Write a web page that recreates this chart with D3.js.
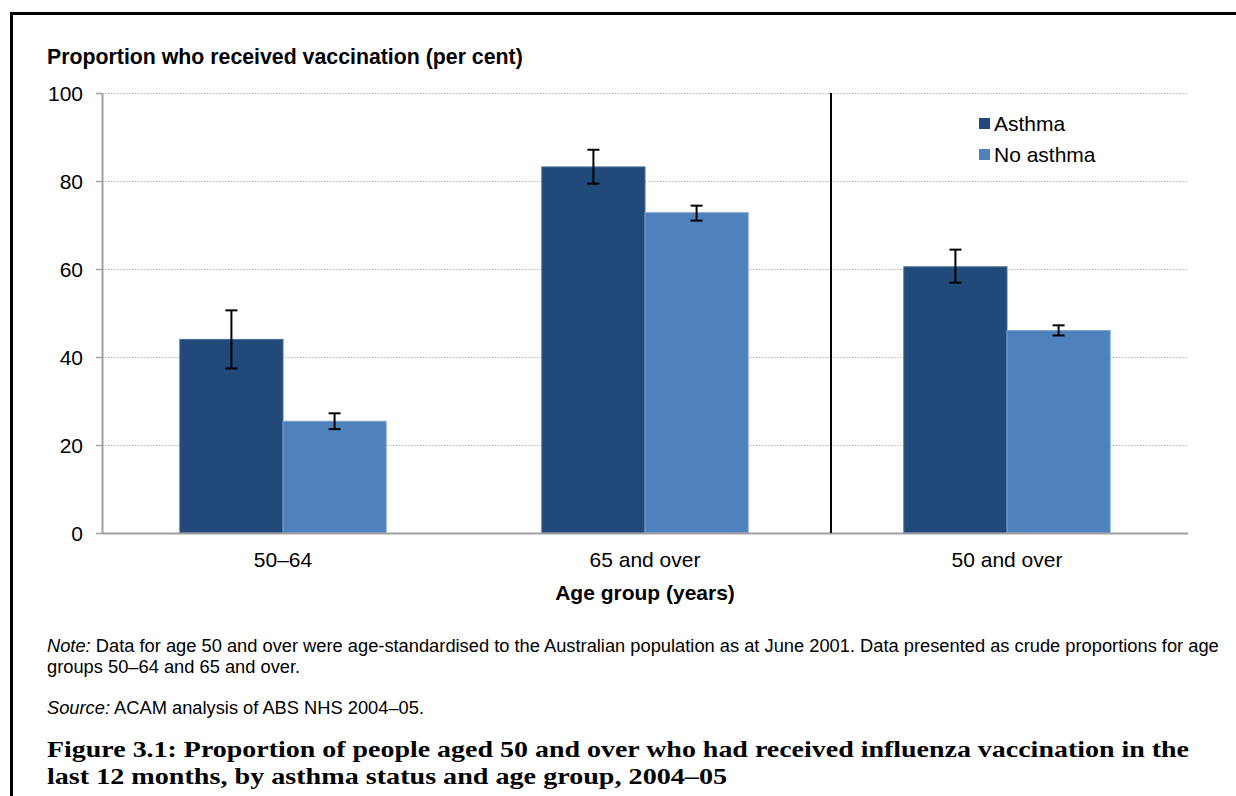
<!DOCTYPE html>
<html>
<head>
<meta charset="utf-8">
<script src="https://cdn.jsdelivr.net/npm/d3@7"></script>
<style>
  body { margin: 0; background: #fff; }
  svg text { font-family: Arial, "Liberation Sans", sans-serif; }
</style>
</head>
<body>
<div id="chart"></div>
<script>
// data
const categories = ['50–64', '65 and over', '50 and over'];
const seriesNames = ['Asthma', 'No asthma'];
const asthma     = [44.0, 83.2, 60.5];
const noAsthma   = [25.4, 72.8, 46.0];
const asthmaLow  = [37.4, 79.4, 56.9];
const asthmaHigh = [50.6, 87.1, 64.4];
const noAsthmaLow  = [23.6, 71.0, 44.9];
const noAsthmaHigh = [27.2, 74.4, 47.2];
const yTicks = [0, 20, 40, 60, 80, 100];

const width = 1236, height = 796;
const margin = {top: 93, left: 102, right: 1188, bottom: 533};
const colors = ['#214a7b', '#4f81bd'];

const svg = d3.select('#chart')
    .append('svg')
      .attr('width', width)
      .attr('height', height);

// outer frame (left and top only visible)
svg.append('path')
    .attr('d', `M11.5,${height} V13.5 H${width}`)
    .attr('fill', 'none')
    .attr('stroke', '#000')
    .attr('stroke-width', 3);

const x = d3.scaleBand()
    .domain(categories)
    .range([margin.left, margin.right])
    .paddingInner(0)
    .paddingOuter(0);

const y = d3.scaleLinear()
    .domain([0, 100])
    .range([margin.bottom, margin.top]);

const barW = x.bandwidth() * 0.285;
const xs = d3.scaleBand()
    .domain(seriesNames)
    .range([x.bandwidth() / 2 - barW, x.bandwidth() / 2 + barW]);

// gridlines
svg.append('g')
    .selectAll('line')
    .data(yTicks.filter(d => d > 0))
    .enter()
    .append('line')
      .attr('x1', margin.left)
      .attr('x2', margin.right)
      .attr('y1', d => y(d) + 0.5)
      .attr('y2', d => y(d) + 0.5)
      .attr('stroke', '#b5b5b5')
      .attr('stroke-width', 1)
      .attr('stroke-dasharray', '1.5,1.5');

// y axis
const yAxis = svg.append('g')
    .attr('transform', `translate(${margin.left},0)`)
    .call(d3.axisLeft(y).tickValues(yTicks).tickSize(6).tickPadding(13));
yAxis.select('.domain').attr('stroke', '#a0a0a0').attr('stroke-width', 2)
    .attr('d', `M0.5,${margin.top}V${margin.bottom}`);
yAxis.selectAll('.tick line').attr('stroke', '#a0a0a0').attr('stroke-width', 1.5);
yAxis.selectAll('.tick text')
    .style('font-size', '21px')
    .attr('dy', '0.35em')
    .attr('fill', '#000');

// bars
const rows = categories.map((c, i) => [
    {cat: c, s: seriesNames[0], v: asthma[i], lo: asthmaLow[i], hi: asthmaHigh[i]},
    {cat: c, s: seriesNames[1], v: noAsthma[i], lo: noAsthmaLow[i], hi: noAsthmaHigh[i]}
]);

const groups = svg.selectAll('.grp')
    .data(rows)
    .enter()
    .append('g')
      .attr('class', 'grp')
      .attr('transform', d => `translate(${x(d[0].cat)},0)`);

groups.selectAll('rect')
    .data(d => d)
    .enter()
    .append('rect')
      .attr('x', d => xs(d.s))
      .attr('y', d => y(d.v))
      .attr('width', xs.bandwidth())
      .attr('height', d => y(0) - y(d.v))
      .attr('fill', (d, i) => colors[i])
      .attr('stroke', (d, i) => i === 0 ? '#4a6c97' : '#7fa3d0')
      .attr('stroke-width', 1);

// error bars
const eb = groups.selectAll('.err')
    .data(d => d)
    .enter()
    .append('g')
      .attr('class', 'err')
      .attr('stroke', '#000')
      .attr('stroke-width', 2);
eb.append('line')
    .attr('x1', d => xs(d.s) + xs.bandwidth() / 2)
    .attr('x2', d => xs(d.s) + xs.bandwidth() / 2)
    .attr('y1', d => y(d.hi))
    .attr('y2', d => y(d.lo));
eb.selectAll('.cap')
    .data(d => [d.hi, d.lo].map(v => ({s: d.s, v: v})))
    .enter()
    .append('line')
      .attr('x1', d => xs(d.s) + xs.bandwidth() / 2 - 6)
      .attr('x2', d => xs(d.s) + xs.bandwidth() / 2 + 6)
      .attr('y1', d => y(d.v))
      .attr('y2', d => y(d.v));

// x axis baseline
svg.append('line')
    .attr('x1', margin.left)
    .attr('x2', margin.right)
    .attr('y1', y(0) + 0.5)
    .attr('y2', y(0) + 0.5)
    .attr('stroke', '#a0a0a0')
    .attr('stroke-width', 2);

// divider between crude and age-standardised groups
svg.append('line')
    .attr('x1', x(categories[2]) + 5)
    .attr('x2', x(categories[2]) + 5)
    .attr('y1', y(100))
    .attr('y2', y(0))
    .attr('stroke', '#000')
    .attr('stroke-width', 2);

// category labels
svg.selectAll('.cat')
    .data(categories)
    .enter()
    .append('text')
      .attr('x', d => x(d) + x.bandwidth() / 2)
      .attr('y', 567)
      .attr('text-anchor', 'middle')
      .style('font-size', '21px')
      .text(d => d);

// axis titles
svg.append('text')
    .attr('x', 47)
    .attr('y', 64)
    .style('font-size', '21.3px')
    .style('font-weight', 'bold')
    .text('Proportion who received vaccination (per cent)');

svg.append('text')
    .attr('x', x(categories[1]) + x.bandwidth() / 2)
    .attr('y', 600)
    .attr('text-anchor', 'middle')
    .style('font-size', '21px')
    .style('font-weight', 'bold')
    .text('Age group (years)');

// legend
const legend = svg.selectAll('.legend')
    .data(seriesNames)
    .enter()
    .append('g')
      .attr('class', 'legend')
      .attr('transform', (d, i) => `translate(979, ${118 + i * 31})`);
legend.append('rect')
    .attr('width', 11)
    .attr('height', 11)
    .attr('fill', (d, i) => colors[i]);
legend.append('text')
    .attr('x', 15)
    .attr('y', 13)
    .style('font-size', '21px')
    .text(d => d);

// notes
const note = svg.append('g').style('font-size', '18.3px');
const n1 = note.append('text').attr('x', 47).attr('y', 652);
n1.append('tspan').style('font-style', 'italic').text('Note:');
n1.append('tspan').text(' Data for age 50 and over were age-standardised to the Australian population as at June 2001. Data presented as crude proportions for age');
note.append('text').attr('x', 47).attr('y', 673)
    .text('groups 50–64 and 65 and over.');
const n2 = note.append('text').attr('x', 47).attr('y', 714);
n2.append('tspan').style('font-style', 'italic').text('Source:');
n2.append('tspan').text(' ACAM analysis of ABS NHS 2004–05.');

// figure caption
const cap = svg.append('g')
    .style('font-size', '24px')
    .style('font-weight', 'bold');
cap.append('text').attr('x', 47).attr('y', 757)
    .attr('textLength', 1142)
    .attr('lengthAdjust', 'spacingAndGlyphs')
    .style('font-family', '"Liberation Serif", serif')
    .text('Figure 3.1: Proportion of people aged 50 and over who had received influenza vaccination in the');
cap.append('text').attr('x', 47).attr('y', 784)
    .attr('textLength', 680)
    .attr('lengthAdjust', 'spacingAndGlyphs')
    .style('font-family', '"Liberation Serif", serif')
    .text('last 12 months, by asthma status and age group, 2004–05');
</script>
</body>
</html>
